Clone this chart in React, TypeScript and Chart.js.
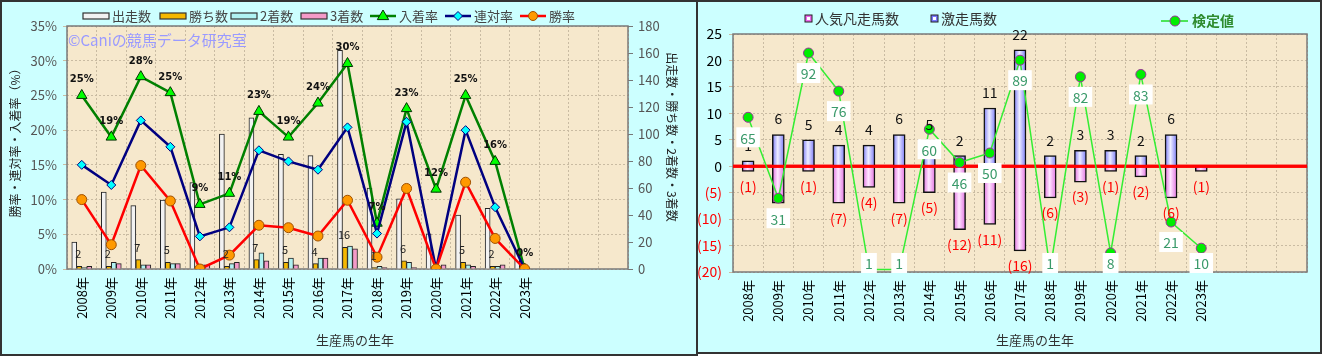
import React, { useEffect, useRef } from "react";
import { Chart, registerables } from "chart.js";
Chart.register(...registerables);

const YEARS = ["2008年","2009年","2010年","2011年","2012年","2013年","2014年","2015年","2016年","2017年","2018年","2019年","2020年","2021年","2022年","2023年"];
const X_LABELS = [...YEARS, "", "", ""];

// left chart: counts (right axis)
const RUNS = [20, 57, 47, 51, 64, 100, 112, 85, 84, 162, 60, 52, 26, 40, 45, 14];
const WINS = [2, 2, 7, 5, 0, 2, 7, 5, 4, 16, 1, 6, 0, 5, 2, 0];
const SECONDS = [1, 5, 3, 4, 3, 4, 12, 8, 8, 17, 2, 5, 0, 3, 2, 0];
const THIRDS = [2, 4, 3, 4, 3, 5, 6, 3, 8, 15, 1, 1, 3, 2, 3, 0];
// left chart: rates (%) (left axis)
const PLACE_RATE = [25.0, 19.0, 27.7, 25.4, 9.3, 10.9, 22.7, 19.0, 23.9, 29.6, 6.6, 23.1, 11.5, 25.0, 15.5, 0];
const QUINELLA_RATE = [15.0, 12.1, 21.4, 17.6, 4.7, 6.0, 17.1, 15.5, 14.3, 20.4, 5.1, 21.2, 0, 20.0, 8.9, 0];
const WIN_RATE = [10.0, 3.5, 14.9, 9.8, 0, 2.0, 6.3, 5.95, 4.75, 9.9, 1.7, 11.6, 0, 12.5, 4.4, 0];

// right chart
const POPULAR_FAIL = [-1, -7, -1, -7, -4, -7, -5, -12, -11, -16, -6, -3, -1, -2, -6, -1];
const UPSET = [1, 6, 5, 4, 4, 6, 5, 2, 11, 22, 2, 3, 3, 2, 6, 0];
const TEST_VALUE = [65, 31, 92, 76, 1, 1, 60, 46, 50, 89, 1, 82, 8, 83, 21, 10];

const FONT = '"Noto Sans CJK JP", "Noto Sans", sans-serif';
Chart.defaults.font.family = FONT;

const PLOT_BG = "#F6E8CC";
const GRID = "#C9BBA2";

function drawMarker(ctx: CanvasRenderingContext2D, style: string, x: number, y: number, r: number, fill: string, stroke: string) {
  ctx.save();
  ctx.beginPath();
  if (style === "triangle") {
    ctx.moveTo(x, y - r);
    ctx.lineTo(x + r * 0.95, y + r * 0.6);
    ctx.lineTo(x - r * 0.95, y + r * 0.6);
    ctx.closePath();
  } else if (style === "rectRot") {
    ctx.moveTo(x, y - r);
    ctx.lineTo(x + r, y);
    ctx.lineTo(x, y + r);
    ctx.lineTo(x - r, y);
    ctx.closePath();
  } else {
    ctx.arc(x, y, r, 0, Math.PI * 2);
  }
  ctx.fillStyle = fill;
  ctx.fill();
  ctx.lineWidth = 1;
  ctx.strokeStyle = stroke;
  ctx.stroke();
  ctx.restore();
}

const leftPlugin = {
  id: "leftDecor",
  beforeDraw(chart: any) {
    const { ctx, chartArea: a } = chart;
    ctx.save();
    ctx.fillStyle = PLOT_BG;
    ctx.fillRect(a.left, a.top, a.right - a.left, a.bottom - a.top);
    ctx.restore();
  },
  beforeDatasetsDraw(chart: any) {
    const { ctx, chartArea: a } = chart;
    ctx.save();
    ctx.strokeStyle = "#7A7A7A";
    ctx.lineWidth = 1.5;
    ctx.strokeRect(a.left, a.top, a.right - a.left, a.bottom - a.top);
    ctx.font = `15px ${FONT}`;
    ctx.fillStyle = "#9A9AFF";
    ctx.textAlign = "left";
    ctx.textBaseline = "middle";
    ctx.fillText("©Caniの競馬データ研究室", a.left + 1, 40);
    ctx.restore();
  },
  afterDatasetsDraw(chart: any) {
    const { ctx } = chart;
    ctx.save();
    ctx.textAlign = "center";
    ctx.textBaseline = "alphabetic";
    ctx.font = `11px ${FONT}`;
    ctx.fillStyle = "#222";
    const winsMeta = chart.getDatasetMeta(1);
    WINS.forEach((w, i) => {
      if (!w) return;
      const el = winsMeta.data[i];
      ctx.fillText(String(w), el.x - 1, el.y - 8);
    });
    ctx.font = `bold 10px "DejaVu Sans", ${FONT}`;
    ctx.fillStyle = "#111";
    const pMeta = chart.getDatasetMeta(4);
    PLACE_RATE.forEach((v, i) => {
      const el = pMeta.data[i];
      ctx.fillText(`${Math.round(v)}%`, el.x, el.y - 13);
    });
    ctx.restore();
  },
  afterDraw(chart: any) {
    const { ctx } = chart;
    ctx.save();
    // legend
    const ly = 16;
    ctx.font = `13px ${FONT}`;
    ctx.textBaseline = "middle";
    ctx.textAlign = "left";
    const bars = [
      { x: 83, text: "出走数", fill: "#F2F2F2" },
      { x: 160, text: "勝ち数", fill: "#F5B800" },
      { x: 231, text: "2着数", fill: "#B0F2F2" },
      { x: 301, text: "3着数", fill: "#F49AC8" },
    ];
    bars.forEach((b) => {
      ctx.fillStyle = b.fill;
      ctx.fillRect(b.x, ly - 3, 26, 6);
      ctx.strokeStyle = "#333";
      ctx.lineWidth = 1.2;
      ctx.strokeRect(b.x, ly - 3, 26, 6);
      ctx.fillStyle = "#444";
      ctx.fillText(b.text, b.x + 29, ly);
    });
    const lines = [
      { x: 370, text: "入着率", color: "#008000", style: "triangle", r: 6, fill: "#00FF00", stroke: "#003300" },
      { x: 445, text: "連対率", color: "#000080", style: "rectRot", r: 4.5, fill: "#00FFFF", stroke: "#000080" },
      { x: 520, text: "勝率", color: "#FF0000", style: "circle", r: 4.5, fill: "#FF9900", stroke: "#A05000" },
    ];
    lines.forEach((l) => {
      ctx.strokeStyle = l.color;
      ctx.lineWidth = 2.5;
      ctx.beginPath();
      ctx.moveTo(l.x, ly);
      ctx.lineTo(l.x + 26, ly);
      ctx.stroke();
      drawMarker(ctx, l.style, l.x + 13, ly, l.r, l.fill, l.stroke);
      ctx.fillStyle = "#444";
      ctx.fillText(l.text, l.x + 29, ly);
    });
    // axis titles
    ctx.fillStyle = "#222";
    ctx.font = `12px ${FONT}`;
    ctx.textAlign = "center";
    ctx.save();
    ctx.translate(15, 140);
    ctx.rotate(-Math.PI / 2);
    ctx.fillText("勝率・連対率・入着率（%）", 0, 0);
    ctx.restore();
    ctx.save();
    ctx.translate(672, 137);
    ctx.rotate(Math.PI / 2);
    ctx.fillText("出走数・勝ち数・2着数・3着数", 0, 0);
    ctx.restore();
    ctx.font = `13px ${FONT}`;
    ctx.fillStyle = "#333";
    ctx.fillText("生産馬の生年", 355, 340);
    ctx.restore();
  },
};

function hGrad(color: string, mid: string, half: number) {
  return (c: any) => {
    const chart = c.chart;
    if (c.type !== "data" || !chart.chartArea) return color;
    const x = chart.scales.x.getPixelForValue(c.dataIndex);
    const g = chart.ctx.createLinearGradient(x - half, 0, x + half, 0);
    g.addColorStop(0, color);
    g.addColorStop(0.45, mid);
    g.addColorStop(1, color);
    return g;
  };
}

const rightPlugin = {
  id: "rightDecor",
  beforeDraw(chart: any) {
    const { ctx, chartArea: a } = chart;
    ctx.save();
    ctx.fillStyle = PLOT_BG;
    ctx.fillRect(a.left, a.top, a.right - a.left, a.bottom - a.top);
    ctx.restore();
  },
  beforeDatasetsDraw(chart: any) {
    const { ctx, chartArea: a } = chart;
    ctx.save();
    ctx.strokeStyle = "#7A7A7A";
    ctx.lineWidth = 1.5;
    ctx.strokeRect(a.left, a.top, a.right - a.left, a.bottom - a.top);
    ctx.restore();
  },
  afterDatasetDraw(chart: any, args: any) {
    if (args.meta.type !== "bar") return;
    const { ctx, chartArea: a } = chart;
    const y0 = chart.scales.y.getPixelForValue(0);
    ctx.save();
    ctx.strokeStyle = "#FF0000";
    ctx.lineWidth = 3;
    ctx.beginPath();
    ctx.moveTo(a.left, y0);
    ctx.lineTo(a.right, y0);
    ctx.stroke();
    ctx.restore();
  },
  afterDatasetsDraw(chart: any) {
    const { ctx, chartArea: a } = chart;
    ctx.save();
    ctx.textAlign = "center";
    ctx.font = `14px ${FONT}`;
    const posMeta = chart.getDatasetMeta(1);
    ctx.fillStyle = "#111";
    ctx.textBaseline = "alphabetic";
    UPSET.forEach((v, i) => {
      if (!v) return;
      const el = posMeta.data[i];
      ctx.fillText(String(v), el.x, el.y - 10);
    });
    const negMeta = chart.getDatasetMeta(0);
    ctx.fillStyle = "#FF0000";
    ctx.textBaseline = "top";
    POPULAR_FAIL.forEach((v, i) => {
      if (!v) return;
      const el = negMeta.data[i];
      ctx.fillText(`(${-v})`, el.x, el.y + 8);
    });
    const lMeta = chart.getDatasetMeta(2);
    ctx.textBaseline = "middle";
    TEST_VALUE.forEach((v, i) => {
      const el = lMeta.data[i];
      const y = Math.min(el.y + 20, a.bottom - 9);
      const t = String(v);
      const w = ctx.measureText(t).width + 8;
      ctx.fillStyle = "#FFFFFF";
      ctx.fillRect(el.x - w / 2, y - 10, w, 20);
      ctx.fillStyle = "#3A9A6A";
      ctx.fillText(t, el.x, y + 1);
    });
    ctx.restore();
  },
  afterDraw(chart: any) {
    const { ctx } = chart;
    ctx.save();
    const ly = 19;
    ctx.font = `14px ${FONT}`;
    ctx.textBaseline = "middle";
    ctx.textAlign = "left";
    const items = [
      { x: 109, text: "人気凡走馬数", fill: "#EE66EE" },
      { x: 235, text: "激走馬数", fill: "#7777FF" },
    ];
    items.forEach((it) => {
      ctx.fillStyle = "#FFFFFF";
      ctx.fillRect(it.x, ly - 4, 7, 7);
      ctx.strokeStyle = it.fill;
      ctx.lineWidth = 2;
      ctx.strokeRect(it.x + 1, ly - 3, 5, 5);
      ctx.strokeStyle = "#222";
      ctx.lineWidth = 1;
      ctx.strokeRect(it.x, ly - 4, 7, 7);
      ctx.fillStyle = "#333";
      ctx.fillText(it.text, it.x + 10, ly);
    });
    const gy = 21;
    ctx.strokeStyle = "#22DD22";
    ctx.lineWidth = 1.5;
    ctx.beginPath();
    ctx.moveTo(465, gy);
    ctx.lineTo(492, gy);
    ctx.stroke();
    drawMarker(ctx, "circle", 479, gy, 5, "#00EE00", "#993399");
    ctx.fillStyle = "#2E8B2E";
    ctx.font = `bold 14px ${FONT}`;
    ctx.fillText("検定値", 496, gy);
    ctx.font = `13px ${FONT}`;
    ctx.fillStyle = "#333";
    ctx.textAlign = "center";
    ctx.fillText("生産馬の生年", 339, 340);
    ctx.restore();
  },
};

export default function App() {
  const leftRef = useRef<HTMLCanvasElement>(null);
  const rightRef = useRef<HTMLCanvasElement>(null);

  useEffect(() => {
    const barBase = { type: "bar", yAxisID: "y1", borderColor: "#222", borderWidth: 1, barThickness: 5, order: 10 };
    const left = new Chart(leftRef.current as HTMLCanvasElement, {
      type: "bar",
      data: {
        labels: X_LABELS,
        datasets: [
          { ...barBase, label: "出走数", data: RUNS, backgroundColor: "#F2F2F2" },
          { ...barBase, label: "勝ち数", data: WINS, backgroundColor: "#F5B800" },
          { ...barBase, label: "2着数", data: SECONDS, backgroundColor: "#B0F2F2" },
          { ...barBase, label: "3着数", data: THIRDS, backgroundColor: "#F49AC8" },
          { type: "line", label: "入着率", data: PLACE_RATE, yAxisID: "y", borderColor: "#008000", borderWidth: 2.5, pointStyle: "triangle", pointRadius: 6, pointBackgroundColor: "#00FF00", pointBorderColor: "#003300", pointBorderWidth: 1, order: 2 },
          { type: "line", label: "連対率", data: QUINELLA_RATE, yAxisID: "y", borderColor: "#000080", borderWidth: 2.5, pointStyle: "rectRot", pointRadius: 4.5, pointBackgroundColor: "#00FFFF", pointBorderColor: "#000080", pointBorderWidth: 1, order: 1 },
          { type: "line", label: "勝率", data: WIN_RATE, yAxisID: "y", borderColor: "#FF0000", borderWidth: 2.5, pointStyle: "circle", pointRadius: 5, pointBackgroundColor: "#FF9900", pointBorderColor: "#A05000", pointBorderWidth: 1, order: 0 },
        ] as any,
      },
      options: {
        responsive: false,
        animation: false,
        devicePixelRatio: 1,
        layout: { padding: { top: 26, left: 0, right: 0, bottom: 0 } },
        plugins: { legend: { display: false }, tooltip: { enabled: false } },
        scales: {
          x: {
            type: "category",
            grid: { color: GRID, offset: true, drawTicks: false },
            border: { display: false, dash: [2, 2] },
            ticks: { autoSkip: false, maxRotation: 90, minRotation: 90, color: "#000", font: { size: 13 }, padding: 8 },
            afterFit: (s: any) => { s.height = 87; },
          },
          y: {
            position: "left",
            min: 0,
            max: 35,
            ticks: { stepSize: 5, callback: (v: any) => `${v}%`, color: "#555", font: { size: 13 }, padding: 6 },
            grid: { color: GRID, tickLength: 4 },
            border: { display: false, dash: [2, 2] },
            afterFit: (s: any) => { s.width = 67; },
          },
          y1: {
            position: "right",
            min: 0,
            max: 180,
            ticks: { stepSize: 20, color: "#555", font: { size: 13 }, padding: 5 },
            grid: { drawOnChartArea: false, tickLength: 5, color: "#777" },
            border: { display: false },
            afterFit: (s: any) => { s.width = 70; },
          },
        },
      } as any,
      plugins: [leftPlugin],
    });

    const right = new Chart(rightRef.current as HTMLCanvasElement, {
      type: "bar",
      data: {
        labels: X_LABELS,
        datasets: [
          { type: "bar", label: "人気凡走馬数", data: POPULAR_FAIL, backgroundColor: hGrad("#E070E0", "#FFE6FF", 6), borderColor: "#111", borderWidth: 1.5, barThickness: 12, stack: "s", order: 2 },
          { type: "bar", label: "激走馬数", data: UPSET, backgroundColor: hGrad("#7878F8", "#EEEEFF", 6), borderColor: "#111", borderWidth: 1.5, barThickness: 12, stack: "s", order: 1 },
          { type: "line", label: "検定値", data: TEST_VALUE, yAxisID: "y2", borderColor: "#33EE33", borderWidth: 1.5, pointRadius: 5, pointBackgroundColor: "#00EE00", pointBorderColor: "#993399", pointBorderWidth: 1, order: 0 },
        ] as any,
      },
      options: {
        responsive: false,
        animation: false,
        devicePixelRatio: 1,
        layout: { padding: { top: 34, left: 0, right: 15, bottom: 0 } },
        plugins: { legend: { display: false }, tooltip: { enabled: false } },
        scales: {
          x: {
            type: "category",
            stacked: true,
            grid: { color: GRID, offset: true, drawTicks: false },
            border: { display: false, dash: [2, 2] },
            ticks: { autoSkip: false, maxRotation: 90, minRotation: 90, color: "#000", font: { size: 13 }, padding: 8 },
            afterFit: (s: any) => { s.height = 82; },
          },
          y: {
            position: "left",
            stacked: true,
            min: -20,
            max: 25,
            ticks: {
              stepSize: 5,
              callback: (v: any) => (v < 0 ? `(${-v})` : `${v}`),
              color: (c: any) => (c.tick && c.tick.value < 0 ? "#FF0000" : "#000"),
              font: { size: 14 },
              padding: 7,
            },
            grid: { color: GRID, tickLength: 4 },
            border: { display: false, dash: [2, 2] },
            afterFit: (s: any) => { s.width = 37; },
          },
          y2: { display: false, min: 0, max: 100 },
        },
      } as any,
      plugins: [rightPlugin],
    });

    return () => {
      left.destroy();
      right.destroy();
    };
  }, []);

  const panel = (left: number, w: number, h: number): React.CSSProperties => ({
    position: "absolute", left, top: 0, width: w, height: h, background: "#CCFFFF",
  });
  const border: React.CSSProperties = {
    position: "absolute", left: 0, top: 0, right: 0, bottom: 0, border: "2px solid #333", boxSizing: "border-box", pointerEvents: "none",
  };

  return (
    <div style={{ position: "absolute", left: 0, top: 0, width: 1322, height: 356, background: "#fff" }}>
      <div style={panel(0, 698, 356)}>
        <canvas ref={leftRef} width={698} height={356} style={{ position: "absolute", left: 0, top: 0 }} />
        <div style={border} />
      </div>
      <div style={panel(696, 626, 354)}>
        <canvas ref={rightRef} width={626} height={354} style={{ position: "absolute", left: 0, top: 0 }} />
        <div style={border} />
      </div>
    </div>
  );
}
